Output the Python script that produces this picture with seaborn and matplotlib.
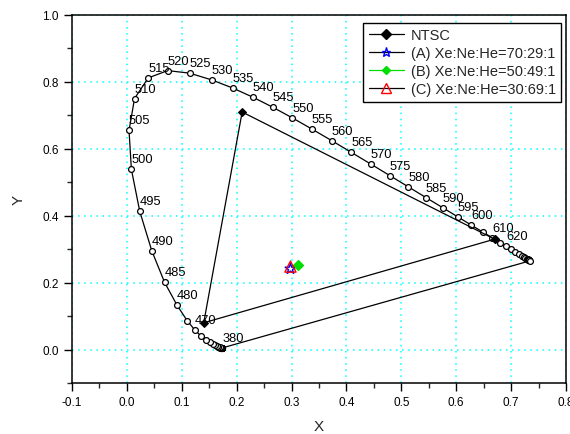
import numpy as np
import pandas as pd
import matplotlib
matplotlib.use("Agg")
import matplotlib.pyplot as plt
from matplotlib.lines import Line2D
from matplotlib.ticker import MultipleLocator
import seaborn as sns

# --- data -------------------------------------------------------------
wavelengths = [380, 385, 390, 395, 400, 405, 410, 415, 420, 425, 430, 435, 440,
               445, 450, 455, 460, 465, 470, 475, 480, 485, 490, 495, 500, 505,
               510, 515, 520, 525, 530, 535, 540, 545, 550, 555, 560, 565, 570,
               575, 580, 585, 590, 595, 600, 605, 610, 615, 620, 625, 630, 635,
               640, 645, 650, 655, 660, 665, 670, 675, 680, 700]
locus_x = [0.1741, 0.1740, 0.1738, 0.1736, 0.1733, 0.1730, 0.1726, 0.1721, 0.1714,
           0.1703, 0.1689, 0.1669, 0.1644, 0.1611, 0.1566, 0.1510, 0.1440, 0.1355,
           0.1241, 0.1096, 0.0913, 0.0687, 0.0454, 0.0235, 0.0082, 0.0039, 0.0139,
           0.0389, 0.0743, 0.1142, 0.1547, 0.1929, 0.2296, 0.2658, 0.3016, 0.3373,
           0.3731, 0.4087, 0.4441, 0.4788, 0.5125, 0.5448, 0.5752, 0.6029, 0.6270,
           0.6482, 0.6658, 0.6801, 0.6915, 0.7006, 0.7079, 0.7140, 0.7190, 0.7230,
           0.7260, 0.7283, 0.7300, 0.7311, 0.7320, 0.7327, 0.7334, 0.7347]
locus_y = [0.0050, 0.0050, 0.0049, 0.0049, 0.0048, 0.0048, 0.0048, 0.0048, 0.0051,
           0.0058, 0.0069, 0.0086, 0.0109, 0.0138, 0.0177, 0.0227, 0.0297, 0.0399,
           0.0578, 0.0868, 0.1327, 0.2007, 0.2950, 0.4127, 0.5384, 0.6548, 0.7502,
           0.8120, 0.8338, 0.8262, 0.8059, 0.7816, 0.7543, 0.7243, 0.6923, 0.6589,
           0.6245, 0.5896, 0.5547, 0.5202, 0.4866, 0.4544, 0.4242, 0.3965, 0.3725,
           0.3514, 0.3340, 0.3197, 0.3083, 0.2993, 0.2920, 0.2859, 0.2809, 0.2770,
           0.2740, 0.2717, 0.2700, 0.2689, 0.2680, 0.2673, 0.2666, 0.2653]
labeled_wavelengths = [380, 470, 480, 485, 490, 495, 500, 505, 510, 515, 520, 525,
                       530, 535, 540, 545, 550, 555, 560, 565, 570, 575, 580, 585,
                       590, 595, 600, 610, 620]

ntsc_x = [0.67, 0.21, 0.14, 0.67]
ntsc_y = [0.33, 0.71, 0.08, 0.33]

sample_names = ["(A) Xe:Ne:He=70:29:1", "(B) Xe:Ne:He=50:49:1", "(C) Xe:Ne:He=30:69:1"]
sample_x = [0.298, 0.311, 0.298]
sample_y = [0.241, 0.253, 0.248]

# --- figure -----------------------------------------------------------
sns.set_style("ticks")
plt.rcParams["font.family"] = ["Liberation Sans", "DejaVu Sans"]

fig = plt.figure(figsize=(5.7, 4.35), dpi=100)
ax = fig.add_axes([72 / 570, 1 - 384 / 435, (566 - 72) / 570, (384 - 16) / 435])

locus = pd.DataFrame({"x": locus_x, "y": locus_y, "wl": wavelengths})
sns.lineplot(data=locus, x="x", y="y", sort=False, estimator=None, ax=ax,
             color="black", linewidth=0.9, marker="o", markersize=4.2,
             markerfacecolor="white", markeredgecolor="black", markeredgewidth=0.9,
             zorder=3)
# line closing the locus
close = pd.DataFrame({"x": [locus_x[-1], locus_x[0]], "y": [locus_y[-1], locus_y[0]]})
sns.lineplot(data=close, x="x", y="y", sort=False, estimator=None, ax=ax,
             color="black", linewidth=0.9, zorder=2)

for wl in labeled_wavelengths:
    i = wavelengths.index(wl)
    ax.annotate(str(wl), (locus_x[i], locus_y[i]), xytext=(0, 4),
                textcoords="offset pixels", ha="left", va="bottom",
                fontsize=9.3, color="black", zorder=5)

ntsc = pd.DataFrame({"x": ntsc_x, "y": ntsc_y})
sns.lineplot(data=ntsc, x="x", y="y", sort=False, estimator=None, ax=ax,
             color="black", linewidth=0.9, marker="D", markersize=4.5,
             markerfacecolor="black", markeredgecolor="black", zorder=4)

styles = [dict(marker="*", mfc="none", mec="blue", lc="black", ms=8),
          dict(marker="D", mfc="#00dd00", mec="#00dd00", lc="#00dd00", ms=5),
          dict(marker="^", mfc="none", mec="red", lc="black", ms=8)]
for sx, sy, st in zip(sample_x, sample_y, styles):
    sns.scatterplot(x=[sx], y=[sy], ax=ax, marker=st["marker"], s=st["ms"] ** 2,
                    facecolors=st["mfc"], edgecolors=st["mec"], linewidth=1.0,
                    zorder=6)

ax.set_xlim(-0.1, 0.8)
ax.set_ylim(-0.1, 1.0)
ax.xaxis.set_minor_locator(MultipleLocator(0.05))
ax.yaxis.set_minor_locator(MultipleLocator(0.1))
ax.set_xticks(np.round(np.arange(-0.1, 0.81, 0.1), 1))
ax.set_xticklabels([f"{v:.1f}" for v in np.arange(-0.1, 0.81, 0.1)])
ax.set_yticks(np.round(np.arange(0.0, 1.01, 0.2), 1))
ax.set_yticklabels([f"{v:.1f}" for v in np.arange(0.0, 1.01, 0.2)])

ax.grid(True, which="major", color="#00ffff", linestyle=(0, (1, 3)), linewidth=1.1)
ax.set_axisbelow(True)
ax.tick_params(which="major", direction="out", length=6, width=1, labelsize=8.5,
               colors="black", top=False, right=False)
ax.tick_params(which="minor", direction="out", length=3.5, width=1,
               top=False, right=False, left=True, bottom=True)
for sp in ax.spines.values():
    sp.set_visible(True)
    sp.set_color("black")
    sp.set_linewidth(1.1)

ax.set_xlabel("X", fontsize=11, labelpad=8)
ax.set_ylabel("Y", fontsize=11, labelpad=12)

handles = [Line2D([], [], color="black", lw=0.9, marker="D", ms=5, mfc="black", mec="black")]
for st in styles:
    handles.append(Line2D([], [], color=st["lc"], lw=0.9, marker=st["marker"],
                          ms=st["ms"] * 0.85, mfc=st["mfc"], mec=st["mec"]))
leg = ax.legend(handles, ["NTSC"] + sample_names, loc="upper right",
                bbox_to_anchor=(0.99, 0.978), borderaxespad=0, fontsize=10.5,
                frameon=True, fancybox=False, edgecolor="black", framealpha=1,
                handlelength=2.4, handletextpad=0.5, labelspacing=0.28,
                borderpad=0.35)
leg.get_frame().set_linewidth(1.0)

fig.savefig("out.png", dpi=100)
